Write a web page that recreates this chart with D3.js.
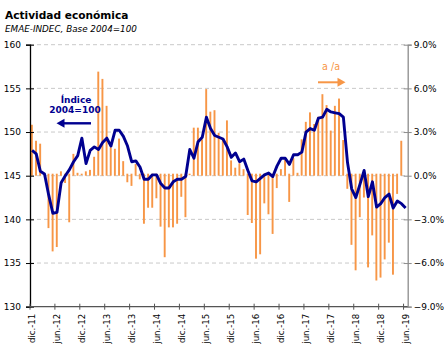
<!DOCTYPE html>
<html><head><meta charset="utf-8">
<script src="https://cdn.jsdelivr.net/npm/d3@7"></script>
<style>body{margin:0;background:#fff}svg{display:block;font-family:"DejaVu Sans",Verdana,sans-serif}</style>
</head><body><svg id="c" width="447" height="355"></svg>
<script>
const monthNames = ["ene.","feb.","mar.","abr.","may.","jun.","jul.","ago.","sep.","oct.","nov.","dic."];
// months dic-11 .. jun-19
const months = [];
for (let k = 0; k < 91; k++) { const m = (11 + k) % 12, y = 11 + Math.floor((11 + k) / 12); months.push(monthNames[m] + "-" + y); }
// Índice (EMAE desestacionalizado, 2004=100)
const indexValues = [147.9,147.5,145.5,145.2,142.8,140.7,140.8,144.2,145.0,145.7,146.6,147.3,149.3,146.4,147.9,148.3,148.0,148.8,149.3,148.4,150.2,150.2,149.5,148.4,146.6,146.7,146.0,144.6,144.6,145.1,145.1,144.1,143.6,143.6,144.3,144.6,144.6,144.9,148.0,147.0,148.9,149.4,151.7,150.4,149.6,149.4,149.2,148.3,147.1,147.6,146.6,146.9,145.6,144.4,144.3,144.7,145.1,145.3,144.9,146.1,147.0,147.0,146.3,147.4,147.4,147.7,150.0,150.4,150.2,151.6,151.7,152.6,152.3,152.2,152.1,151.7,146.5,143.5,142.5,144.0,145.6,142.6,144.3,141.4,141.8,142.5,142.9,141.3,142.1,141.8,141.3];
// Variación a/a (%)
const yoyValues = [3.5,2.4,2.2,0.1,-3.6,-5.2,-4.9,0.3,-0.5,-3.2,1.5,0.2,0.1,0.3,0.4,1.3,7.15,6.65,4.8,1.95,1.85,2.55,1.0,-0.45,-0.7,0.8,-0.25,-3.3,-2.2,-2.2,-1.55,-3.5,-5.6,-3.55,-3.55,-3.3,-1.45,-2.85,0.1,3.3,3.3,2.5,5.95,4.4,4.5,2.95,2.6,3.8,1.05,0.55,0.85,0.45,-2.7,-3.25,-5.7,-5.4,-1.9,-2.65,-4.0,-0.85,0.45,1.1,-1.8,1.2,0.2,2.5,3.7,4.35,3.55,4.05,5.6,4.85,3.1,4.8,5.3,2.45,-0.9,-4.75,-6.5,-2.85,-1.5,-6.3,-4.1,-7.2,-7.0,-5.75,-4.6,-6.8,-1.25,2.4,null];
const leftTicks = [130,135,140,145,150,155,160];
const rightTicks = [-9,-6,-3,0,3,6,9];
const title = "Actividad económica";
const subtitle = "EMAE-INDEC, Base 2004=100";

const svg = d3.select("#c");
const L = 30, R = 407.7, T = 44.7, B = 306.7;
const x = d3.scaleBand().domain(months).range([L, R]).padding(0);
const bw = x.bandwidth();
const yL = d3.scaleLinear().domain([130,160]).range([B, T]);
const yR = d3.scaleLinear().domain([-9,9]).range([B, T]);

// gridlines
svg.append("g").selectAll("line").data(leftTicks.filter(d => d > 130)).join("line")
  .attr("x1", L).attr("x2", R).attr("y1", d => yL(d)).attr("y2", d => yL(d))
  .attr("stroke", "#c9c9c9").attr("stroke-width", 1).attr("stroke-dasharray", "4,3");

// bars
const barData = months.map((m, i) => ({m, v: yoyValues[i]})).filter(d => d.v !== null);
svg.append("g").selectAll("rect").data(barData).join("rect")
  .attr("x", d => x(d.m) + bw * 0.22)
  .attr("width", bw * 0.46)
  .attr("y", d => Math.min(yR(d.v), yR(0) - 2))
  .attr("height", d => Math.abs(yR(d.v) - yR(0)) + (d.v >= 0 ? 0 : 2))
  .attr("fill", "#F79646");

// line
const line = d3.line().x((d, i) => x(months[i]) + bw / 2).y(d => yL(d));
svg.append("path").datum(indexValues).attr("d", line)
  .attr("fill", "none").attr("stroke", "#000090").attr("stroke-width", 2.9).attr("stroke-linejoin", "round");

// axes
const axL = d3.axisLeft(yL).tickValues(leftTicks).tickSize(4).tickFormat(d3.format("d"));
const gL = svg.append("g").attr("transform", `translate(${L},0)`).call(axL);
gL.select(".domain").attr("stroke", "#000").attr("stroke-width", 1.3);
gL.selectAll(".tick line").attr("x2", 4).attr("x1", -4).attr("stroke", "#000");
gL.selectAll("text").attr("x", -9).attr("font-size", 9).attr("fill", "#000").attr("font-family", "DejaVu Sans");

const axR = d3.axisRight(yR).tickValues(rightTicks).tickSize(4).tickFormat(d => d3.format(".1f")(d) + "%");
const gR = svg.append("g").attr("transform", `translate(${R},0)`).call(axR);
gR.select(".domain").attr("stroke", "#8c8c8c").attr("stroke-width", 1.3);
gR.selectAll(".tick line").attr("x1", -4).attr("x2", 4).attr("stroke", "#8c8c8c");
gR.selectAll("text").attr("x", 6).attr("font-size", 9).attr("fill", "#000").attr("font-family", "DejaVu Sans");

const tickMonths = months.filter((m, i) => i % 6 === 0);
const gB = svg.append("g").attr("transform", `translate(0,${B})`);
gB.append("line").attr("x1", L).attr("x2", R).attr("stroke", "#555").attr("stroke-width", 1.3);
gB.selectAll("line.t").data(tickMonths).join("line").attr("class", "t")
  .attr("x1", d => x(d)).attr("x2", d => x(d)).attr("y1", -3).attr("y2", 3).attr("stroke", "#555");
gB.selectAll("text").data(tickMonths).join("text")
  .attr("transform", d => `translate(${x(d) + bw / 2},7) rotate(-90)`)
  .attr("text-anchor", "end").attr("dy", "0.35em").attr("font-size", 8.6).attr("fill", "#000")
  .text(d => d);

// titles
svg.append("text").attr("x", 5).attr("y", 18.5).attr("font-size", 10.6).attr("font-weight", "bold").attr("fill", "#000").text(title);
svg.append("text").attr("x", 5).attr("y", 31.5).attr("font-size", 8.8).attr("font-style", "italic").attr("fill", "#000").text(subtitle);

// annotations
svg.append("text").attr("x", 76).attr("y", 102.7).attr("text-anchor", "middle").attr("font-size", 9).attr("font-weight", "bold").attr("fill", "#000090").text("Índice");
svg.append("text").attr("x", 75).attr("y", 113.3).attr("text-anchor", "middle").attr("font-size", 9).attr("font-weight", "bold").attr("fill", "#000090").text("2004=100");
svg.append("line").attr("x1", 91).attr("x2", 63).attr("y1", 123.3).attr("y2", 123.3).attr("stroke", "#000090").attr("stroke-width", 2.4);
svg.append("path").attr("d", "M56.5,123.3 L64.5,118.8 L64.5,127.8 Z").attr("fill", "#000090");

svg.append("text").attr("x", 331).attr("y", 69.5).attr("text-anchor", "middle").attr("font-size", 9.6).attr("fill", "#F79646").text("a /a");
svg.append("line").attr("x1", 318).attr("x2", 338).attr("y1", 82.3).attr("y2", 82.3).attr("stroke", "#F79646").attr("stroke-width", 2);
svg.append("path").attr("d", "M345.5,82.3 L337.5,77.8 L337.5,86.8 Z").attr("fill", "#F79646");
</script></body></html>
